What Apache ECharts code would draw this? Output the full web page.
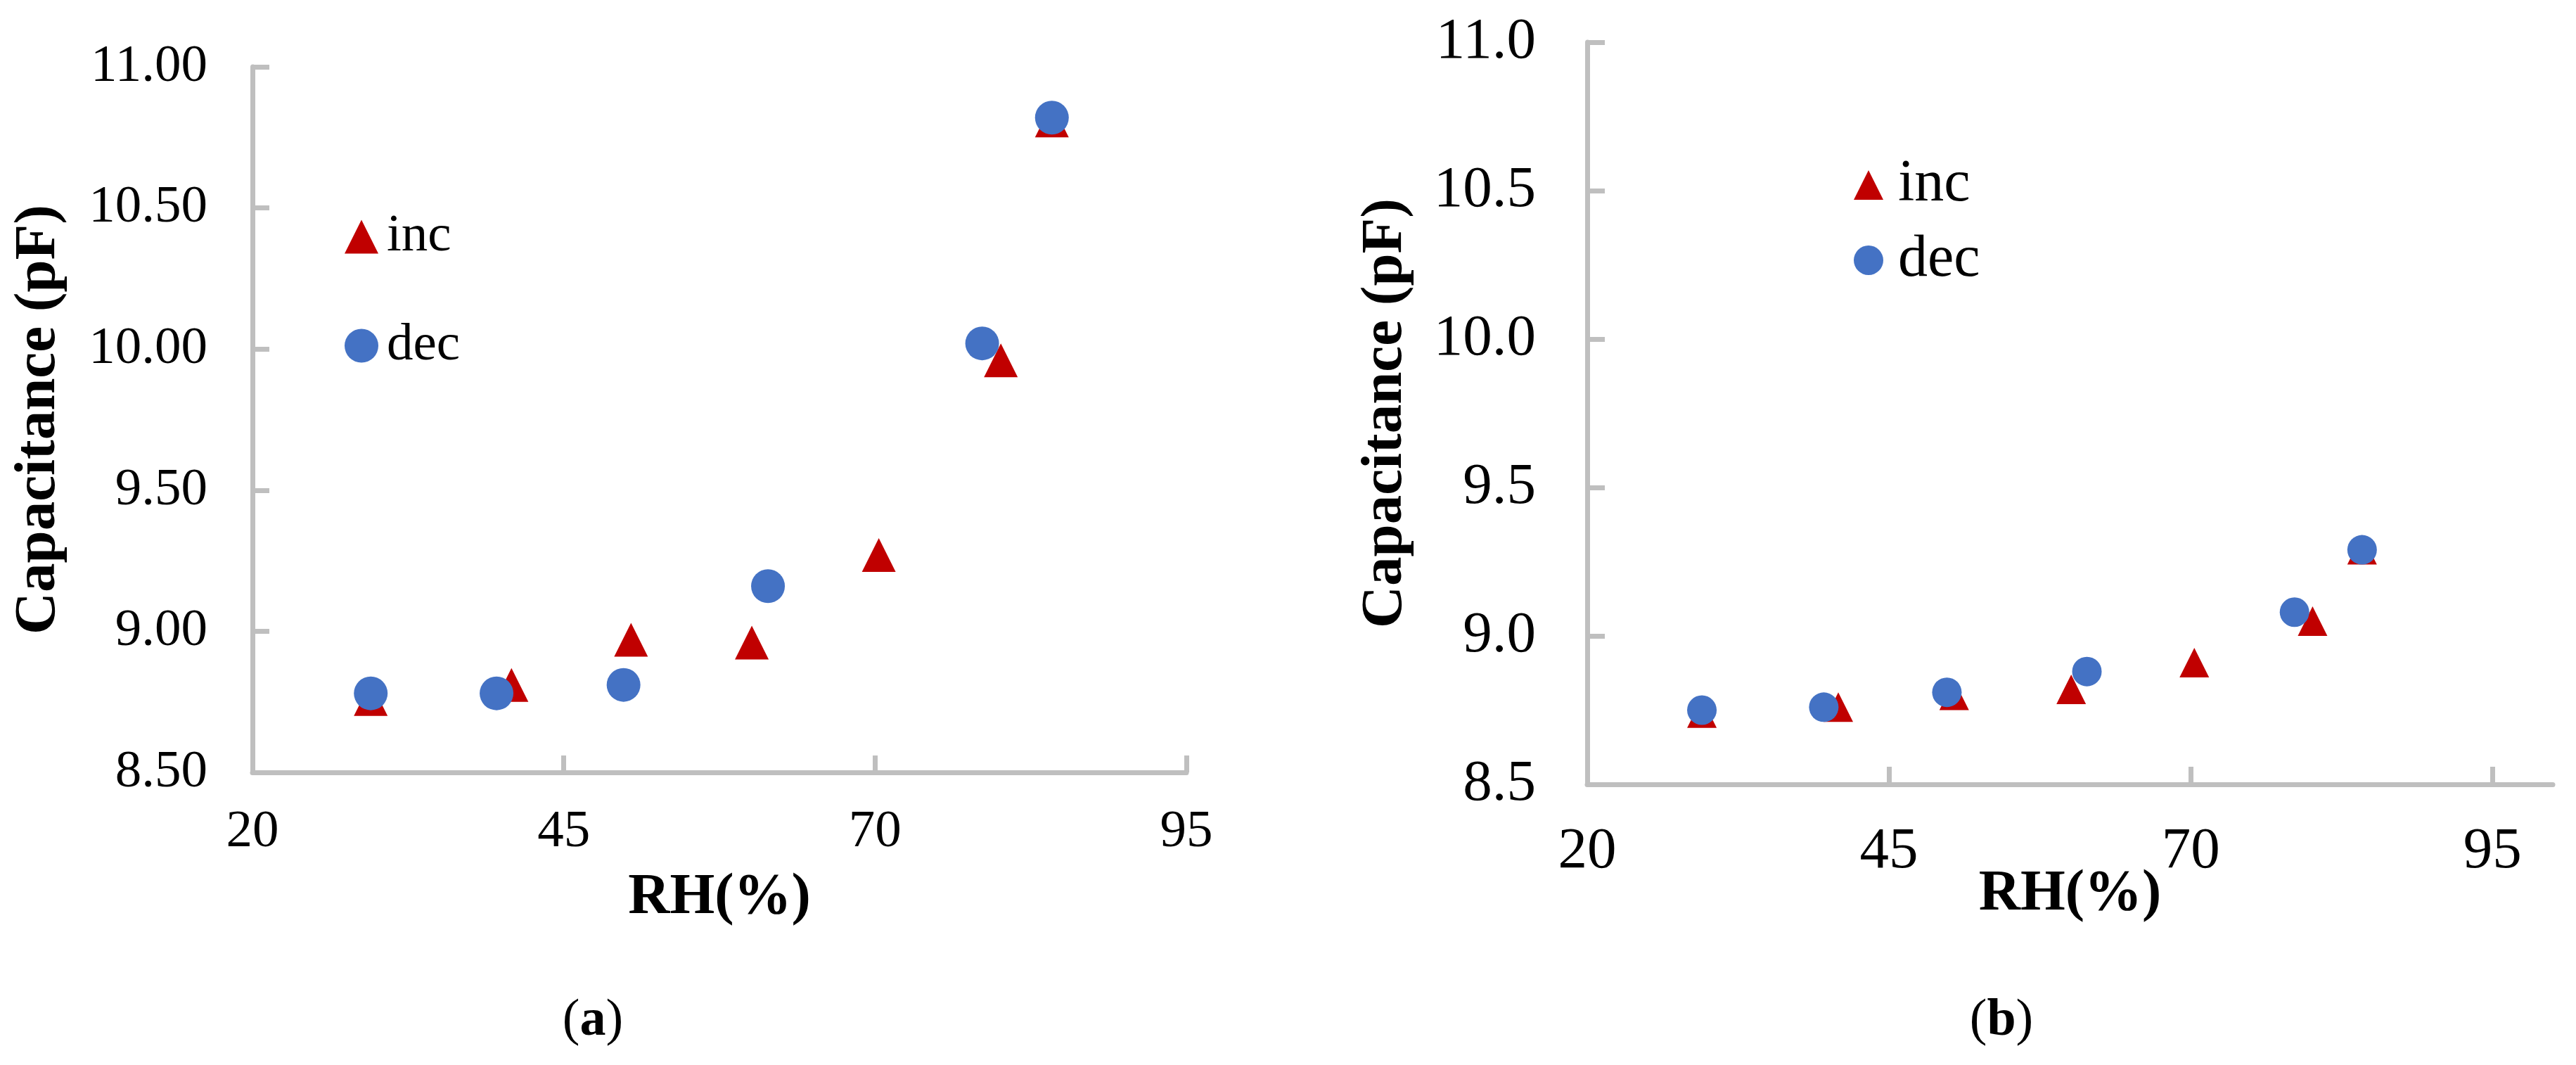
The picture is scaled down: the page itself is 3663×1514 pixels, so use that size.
<!DOCTYPE html>
<html>
<head>
<meta charset="utf-8">
<script src="https://cdn.jsdelivr.net/npm/echarts@6/dist/echarts.min.js"></script>
<style>
  html, body { margin: 0; padding: 0; background: #fff; }
  #main { width: 3663px; height: 1514px; }
</style>
</head>
<body>
<div id="main"></div>
<script>
// RH values (%)
var rhInc = [29.5, 40.8, 50.4, 60.1, 70.3, 80.1, 84.2];
var rhDec = [29.5, 39.6, 49.8, 61.4, 78.6, 84.2];
// (a) capacitance, pF
var capIncA = [8.76, 8.81, 8.97, 8.96, 9.27, 9.96, 10.81];
var capDecA = [8.78, 8.78, 8.81, 9.16, 10.02, 10.82];
// (b) capacitance, pF
var capIncB = [8.74, 8.76, 8.80, 8.82, 8.91, 9.05, 9.29];
var capDecB = [8.75, 8.76, 8.81, 8.88, 9.08, 9.29];
// tick labels
var xTicks = [20, 45, 70, 95];
var seriesNames = ['inc', 'dec'];

var FONT = "'Liberation Serif', 'Times New Roman', serif";
var RED = '#C00000', BLUE = '#4472C4', AXIS = '#BFBFBF';

function zip(xs, ys) {
    var out = [];
    for (var i = 0; i < xs.length; i++) out.push([xs[i], ys[i]]);
    return out;
}

function xAxisCfg(idx, max, fs, margin, gap, tickLen) {
    return {
        type: 'value', gridIndex: idx, min: 20, max: max,
        name: 'RH(%)', nameLocation: 'middle', nameGap: gap, nameMoveOverlap: false,
        nameTextStyle: { fontFamily: FONT, fontSize: 82, fontWeight: 'bold', color: '#000' },
        axisLine: { show: true, lineStyle: { color: AXIS, width: 7 } },
        axisTick: { show: true, inside: true, length: tickLen, customValues: xTicks, lineStyle: { color: AXIS, width: 7 } },
        axisLabel: { customValues: xTicks, margin: margin, fontFamily: FONT, fontSize: fs, color: '#000' },
        splitLine: { show: false }
    };
}

function yAxisCfg(idx, fs, margin, gap, digits, tickLen) {
    return {
        type: 'value', gridIndex: idx, min: 8.5, max: 11, interval: 0.5,
        name: 'Capacitance (pF)', nameLocation: 'middle', nameRotate: 90, nameGap: gap, nameMoveOverlap: false,
        nameTextStyle: { fontFamily: FONT, fontSize: 83, fontWeight: 'bold', color: '#000' },
        axisLine: { show: true, lineStyle: { color: AXIS, width: 7 } },
        axisTick: { show: true, inside: true, length: tickLen, lineStyle: { color: AXIS, width: 7 } },
        axisLabel: {
            margin: margin, fontFamily: FONT, fontSize: fs, color: '#000',
            formatter: function (v) { return v.toFixed(digits); }
        },
        splitLine: { show: false }
    };
}

var chart = echarts.init(document.getElementById('main'));
chart.setOption({
    animation: false,
    backgroundColor: '#fff',
    grid: [
        { left: 359, top: 95, width: 1328, height: 1003, containLabel: false, outerBoundsMode: 'none' },
        { left: 2257, top: 60, width: 1373, height: 1055, containLabel: false, outerBoundsMode: 'none' }
    ],
    xAxis: [
        xAxisCfg(0, 95, 75, 48, 138, 24),
        xAxisCfg(1, 100, 83, 55, 116, 25)
    ],
    yAxis: [
        yAxisCfg(0, 75, 64, 262, 2, 24),
        yAxisCfg(1, 83, 73, 245, 1, 25)
    ],
    legend: [
        {
            data: seriesNames, orient: 'vertical', left: 490, top: 299, padding: 0,
            itemWidth: 48, itemHeight: 48, itemGap: 80, selectedMode: false,
            textStyle: { fontFamily: FONT, fontSize: 75, color: '#000', padding: [0, 0, 0, 7] }
        },
        {
            data: seriesNames, orient: 'vertical', left: 2636, top: 221, padding: 0,
            itemWidth: 42, itemHeight: 42, itemGap: 23, selectedMode: false,
            textStyle: { fontFamily: FONT, fontSize: 84, color: '#000', padding: [0, 0, 0, 16] }
        }
    ],
    series: [
        { name: 'inc', type: 'scatter', xAxisIndex: 0, yAxisIndex: 0, symbol: 'triangle', symbolSize: 48,
          itemStyle: { color: RED, opacity: 1 }, data: zip(rhInc, capIncA) },
        { name: 'dec', type: 'scatter', xAxisIndex: 0, yAxisIndex: 0, symbol: 'circle', symbolSize: 48,
          itemStyle: { color: BLUE, opacity: 1 }, data: zip(rhDec, capDecA) },
        { name: 'inc', type: 'scatter', xAxisIndex: 1, yAxisIndex: 1, symbol: 'triangle', symbolSize: 42,
          itemStyle: { color: RED, opacity: 1 }, data: zip(rhInc, capIncB) },
        { name: 'dec', type: 'scatter', xAxisIndex: 1, yAxisIndex: 1, symbol: 'circle', symbolSize: 42,
          itemStyle: { color: BLUE, opacity: 1 }, data: zip(rhDec, capDecB) }
    ],
    graphic: [
        {
            type: 'text', x: 843, y: 1452,
            style: {
                text: '{n|(}{b|a}{n|)}', align: 'center', verticalAlign: 'middle',
                rich: {
                    n: { fontFamily: FONT, fontSize: 74, fill: '#000' },
                    b: { fontFamily: FONT, fontSize: 74, fontWeight: 'bold', fill: '#000' }
                }
            }
        },
        {
            type: 'text', x: 2846, y: 1452,
            style: {
                text: '{n|(}{b|b}{n|)}', align: 'center', verticalAlign: 'middle',
                rich: {
                    n: { fontFamily: FONT, fontSize: 74, fill: '#000' },
                    b: { fontFamily: FONT, fontSize: 74, fontWeight: 'bold', fill: '#000' }
                }
            }
        }
    ]
});
</script>
</body>
</html>
